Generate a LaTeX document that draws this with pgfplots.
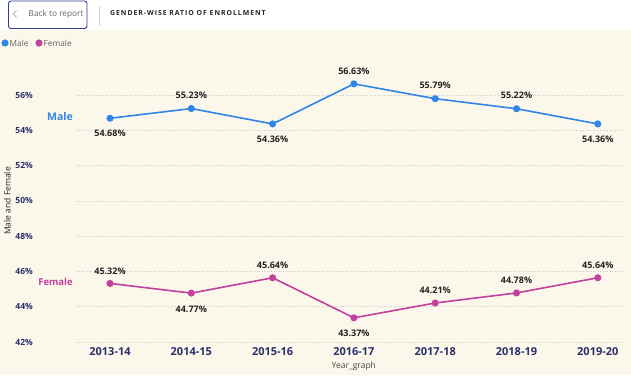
\documentclass[border=0pt]{standalone}
\usepackage{fontspec}
\setmainfont{Open Sans}
\usepackage{pgfplots}
\pgfplotsset{compat=1.18}
\definecolor{male}{HTML}{2F86E8}
\definecolor{female}{HTML}{C2409E}
\definecolor{navy}{HTML}{2C2F6B}
\definecolor{cream}{HTML}{FBF7EB}
\definecolor{lab}{HTML}{252423}
\definecolor{btn}{HTML}{2E3D8F}
\begin{document}
\begin{tikzpicture}[x=1pt,y=1pt]
\path[use as bounding box] (0,0) rectangle (631,382);
\fill[white] (0,0) rectangle (631,382);
\fill[cream] (0,7) rectangle (631,352);
% header
\draw[btn, line width=0.9pt, rounded corners=2.5pt] (8.5,353.5) rectangle (87,381);
\draw[gray!70, line width=0.7pt] (16.5,371.5) -- (13.5,368) -- (16.5,364.5);
\node[anchor=west, inner sep=0pt, text=gray!80!black, font=\fontsize{8.3}{9}\selectfont] at (28.5,368) {Back to report};
\draw[gray!35, line width=0.8pt] (99,356) -- (99,376);
\node[anchor=west, inner sep=0pt, text=lab, font=\fontsize{6.9}{8}\selectfont\bfseries\addfontfeatures{LetterSpace=14}] at (110,368.5) {GENDER-WISE RATIO OF ENROLLMENT};
% legend
\fill[male] (5,339) circle (3.6);
\node[anchor=west, inner sep=0pt, text=gray!75!black, font=\fontsize{8.3}{9}\selectfont] at (9.5,339) {Male};
\fill[female] (39,339) circle (3.6);
\node[anchor=west, inner sep=0pt, text=gray!75!black, font=\fontsize{8.3}{9}\selectfont] at (43.5,339) {Female};
% series names
\node[text=male, inner sep=0pt, font=\fontsize{10.5}{12}\selectfont\bfseries] at (60,265) {Male};
\node[text=female, inner sep=0pt, font=\fontsize{9.5}{11}\selectfont\bfseries] at (55.5,100) {Female};
% y axis title
\node[rotate=90, inner sep=0pt, text=lab, font=\fontsize{8.5}{10}\selectfont] at (7.5,181) {Male and Female};
\begin{axis}[
  at={(77pt,40pt)}, anchor=south west,
  scale only axis, width=546pt, height=282.3pt,
  xmin=-0.406, xmax=6.31, ymin=42, ymax=58,
  axis line style={draw=none}, major tick length=0pt,
  xtick={0,1,2,3,4,5,6},
  xticklabels={2013-14,2014-15,2015-16,2016-17,2017-18,2018-19,2019-20},
  ytick={42,44,46,48,50,52,54,56},
  yticklabels={42\%,44\%,46\%,48\%,50\%,52\%,54\%,56\%},
  xticklabel style={font=\fontsize{11}{13}\selectfont\bfseries, text=navy, inner sep=0pt, yshift=-5pt},
  yticklabel style={font=\fontsize{8.5}{10}\selectfont\bfseries, text=navy, inner sep=0pt, anchor=east, xshift=-44pt},
  ymajorgrids, grid style={dotted, gray!40, line width=0.6pt},
  xlabel={Year\_graph}, xlabel style={font=\fontsize{8.5}{10}\selectfont, text=lab!85, at={(axis description cs:0.507,0)}, anchor=center, yshift=-24pt, inner sep=0pt},
  clip=false,
  point meta=y,
  visualization depends on={\thisrow{off}\as\myoff},
  nodes near coords={\pgfmathprintnumber[fixed,precision=2,fixed zerofill,assume math mode=true]{\pgfplotspointmeta}\%},
  nodes near coords style={anchor=center, inner sep=0pt, yshift=\myoff pt, font=\fontsize{9}{10}\selectfont\bfseries, text=lab},
]
\addplot[male, line width=1.6pt, mark=*, mark size=2.7pt, mark options={solid}] table[x=x,y=y] {
x y off
0 54.68 -15
1 55.23 13
2 54.36 -15
3 56.63 13
4 55.79 13
5 55.22 13
6 54.36 -15
};
\addplot[female, line width=1.6pt, mark=*, mark size=2.7pt, mark options={solid}] table[x=x,y=y] {
x y off
0 45.32 12.5
1 44.77 -16
2 45.64 12.5
3 43.37 -15
4 44.21 12.5
5 44.78 12.5
6 45.64 12.5
};
\end{axis}
\end{tikzpicture}
\end{document}
